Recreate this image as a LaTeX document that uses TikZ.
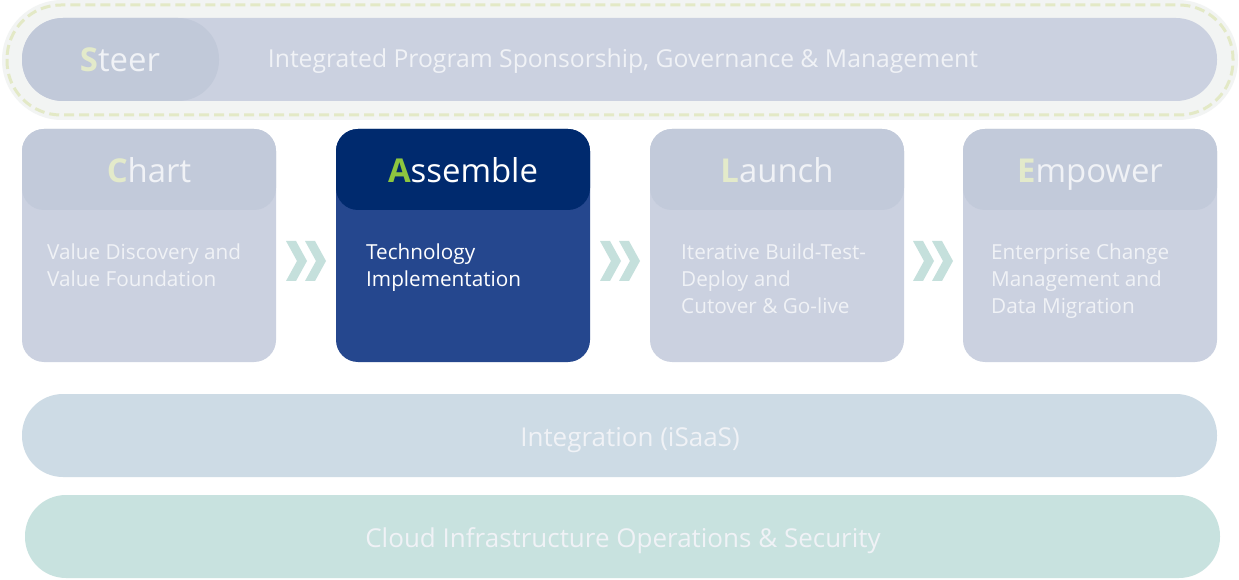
\documentclass[tikz,border=0pt]{standalone}
\usepackage{fontspec}
\setmainfont{Open Sans}
\definecolor{halo}{HTML}{F2F4F3}
\definecolor{dashc}{HTML}{E3E9C6}
\definecolor{barblue}{HTML}{CBD1E0}
\definecolor{pillblue}{HTML}{C1C9D9}
\definecolor{hdrlight}{HTML}{C2CADA}
\definecolor{navy}{HTML}{002A6E}
\definecolor{navybody}{HTML}{25478E}
\definecolor{chev}{HTML}{C5E0DC}
\definecolor{integ}{HTML}{CDDBE5}
\definecolor{cloud}{HTML}{C8E2DF}
\definecolor{txtlight}{HTML}{F0F2F6}
\definecolor{initlight}{HTML}{E3EACA}
\definecolor{initgreen}{HTML}{8DC63F}
\tikzset{
  x=1bp,y=-1bp,
  bigtxt/.style={text=txtlight,font=\fontsize{33}{38}\selectfont,inner sep=0,anchor=base},
  bartxt/.style={text=txtlight,font=\fontsize{24.8}{29}\selectfont,inner sep=0,anchor=base},
  lowtxt/.style={bartxt,font=\fontsize{26.1}{30}\selectfont},
  bodytxt/.style={text=txtlight,font=\fontsize{20.8}{27}\selectfont,align=left,anchor=north west,inner sep=0},
  chevron/.style={fill=chev,draw=none}
}
\newcommand{\chevpair}[3]{%
  \fill[chevron] (#1,#2) -- ++(10,0) -- ++(11,20) -- ++(-11,20) -- ++(-10,0) -- ++(11,-20) -- cycle;
  \fill[chevron] (#1+19,#2) -- ++(10,0) -- ++(11,20) -- ++(-11,20) -- ++(-10,0) -- ++(11,-20) -- cycle;
  \coordinate (#3) at (#1+20,#2+20);
}
\begin{document}
\begin{tikzpicture}
\useasboundingbox (0,0) rectangle (1239,580);
\fill[white] (0,0) rectangle (1239,580);
% Steer halo
\fill[halo,rounded corners=60bp] (2,0) rectangle (1238,120);
\draw[dashc,line width=3bp,dash pattern=on 10bp off 5bp,rounded corners=54bp] (7,5) rectangle (1233,115);
\fill[barblue,rounded corners=41bp] (22,18) rectangle (1217,101);
\fill[pillblue,rounded corners=41bp] (22,18) rectangle (219,101);
\node[bigtxt] (steer) at (120,72) {\textcolor{initlight}{\bfseries S}teer};
\node[bartxt] (steertxt) at (623,68) {Integrated Program Sponsorship, Governance \& Management};
% Phase boxes
\foreach \x/\hc/\bc in {22/hdrlight/barblue,336/navy/navybody,650/hdrlight/barblue,963/hdrlight/barblue}{
  \fill[\bc,rounded corners=22bp] (\x,129) rectangle (\x+254,362);
  \fill[\hc,rounded corners=22bp] (\x,129) rectangle (\x+254,210);
}
\node[bigtxt] (chart) at (149,183) {\textcolor{initlight}{\bfseries C}hart};
\node[bigtxt,text=white] (assemble) at (463,183) {\textcolor{initgreen}{\bfseries A}ssemble};
\node[bigtxt] (launch) at (777,183) {\textcolor{initlight}{\bfseries L}aunch};
\node[bigtxt] (empower) at (1090,183) {\textcolor{initlight}{\bfseries E}mpower};
\node[bodytxt] (chartbody) at (47,244) {Value Discovery and\\Value Foundation};
\node[bodytxt,text=white] (assemblebody) at (366,244) {Technology\\Implementation};
\node[bodytxt] (launchbody) at (681,244) {Iterative Build-Test-\\Deploy and\\Cutover \& Go-live};
\node[bodytxt] (empowerbody) at (991,244) {Enterprise Change\\Management and\\Data Migration};
% chevrons
\chevpair{286}{241}{c1}
\chevpair{600}{241}{c2}
\chevpair{913}{241}{c3}
% bottom bars
\fill[integ,rounded corners=41bp] (22,394) rectangle (1217,477);
\node[lowtxt] (integ) at (630,446) {Integration (iSaaS)};
\fill[cloud,rounded corners=41bp] (25,495) rectangle (1220,578);
\node[lowtxt] (cloud) at (623,547) {Cloud Infrastructure Operations \& Security};
\end{tikzpicture}
\end{document}
